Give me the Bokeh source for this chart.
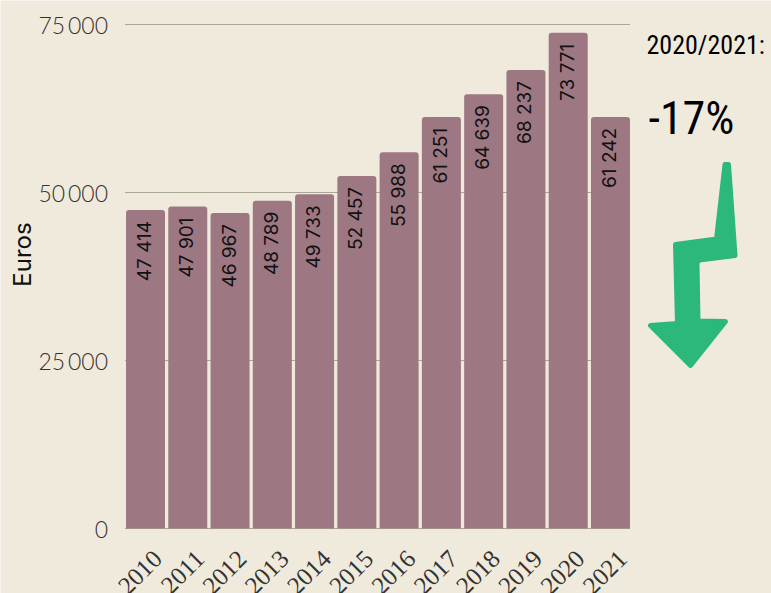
from bokeh.plotting import figure
from bokeh.embed import file_html
from bokeh.resources import INLINE
from bokeh.models import ColumnDataSource, FixedTicker, Range1d, Label, LabelSet, PolyAnnotation
from bokeh.core.properties import value

years = [2010, 2011, 2012, 2013, 2014, 2015, 2016, 2017, 2018, 2019, 2020, 2021]
euros = [47414, 47901, 46967, 48789, 49733, 52457, 55988, 61251, 64639, 68237, 73771, 61242]
labels = ["47 414", "47 901", "46 967", "48 789", "49 733", "52 457", "55 988", "61 251", "64 639", "68 237", "73 771", "61 242"]
y_ticks = [0, 25000, 50000, 75000]
y_tick_labels = {0: "0", 25000: "25\u2009000", 50000: "50\u2009000", 75000: "75\u2009000"}
y_title = "Euros"
note_period = "2020/2021:"
note_change = "-17%"

BG = "#f0eadc"
BAR = "#9d7882"
GREEN = "#2bb87a"

X_STEP = 42.27            # px per year
Y_UNIT = 75000 / 504      # euros per px
x_left = 2010 - 20.5 / X_STEP
x_end = 2021 + 19.5 / X_STEP

src = ColumnDataSource(dict(year=years, euro=euros, label=labels, zero=[0] * 12, name=[str(y) for y in years]))
grid = ColumnDataSource(dict(y=y_ticks, x0=[x_left] * 4, x1=[x_end] * 4))

p = figure(width=771, height=593, output_backend="svg", toolbar_location=None,
           x_range=Range1d(x_left - 124.5 / X_STEP, x_left + 646.5 / X_STEP),
           y_range=Range1d(-65 * Y_UNIT, 75000 + 24 * Y_UNIT),
           x_axis_location=None,
           background_fill_color=BG, border_fill_color=BG,
           min_border_left=0, min_border_right=0, min_border_top=0, min_border_bottom=0)
p.outline_line_color = None
p.grid.visible = False

p.segment(x0="x0", x1="x1", y0="y", y1="y", source=grid, line_color="#a8a894", line_width=1)
p.vbar(x="year", top="euro", width=0.923, bottom=0, source=src,
       fill_color=BAR, line_color=None, border_radius=dict(top_left=3, top_right=3, bottom_right=0, bottom_left=0))
p.text(x="year", y="euro", text="label", source=src, angle=1.5708, text_align="right",
       text_baseline="middle", y_offset=11, x_offset=-1, text_font=value("Inter"),
       text_font_size="19px", text_color="#111111")

p.yaxis.fixed_location = x_left
p.yaxis.ticker = FixedTicker(ticks=y_ticks)
p.yaxis.major_label_overrides = y_tick_labels
p.yaxis.major_label_text_font = "Lato Light"
p.yaxis.major_label_text_font_size = "23px"
p.yaxis.major_label_text_color = "#333333"
p.yaxis.major_label_standoff = 17
p.yaxis.major_tick_out = 0
p.yaxis.major_tick_in = 0
p.yaxis.axis_line_color = None
p.yaxis.major_tick_line_color = None
p.yaxis.minor_tick_line_color = None

p.add_layout(LabelSet(x="year", y="zero", text="name", source=src, angle=0.785, text_align="right",
                      text_baseline="middle", x_offset=12, y_offset=-26, text_font="Lato Light",
                      text_font_size="25px", text_color="#333333"))

p.add_layout(Label(x=22, y=254, x_units="canvas", y_units="canvas", angle=1.5708, text=y_title,
                   text_font="Inter", text_font_size="24px", text_color="#111111",
                   text_align="center", text_baseline="alphabetic"))

p.add_layout(Label(x=646, y=44, x_units="canvas", y_units="canvas",
                   text=note_period, text_font="Roboto Condensed",
                   text_font_size="26px", text_color="#000000", text_baseline="alphabetic"))
p.add_layout(Label(x=648, y=117, x_units="canvas", y_units="canvas",
                   text=note_change, text_font="Roboto Condensed",
                   text_font_size="46px", text_color="#000000", text_baseline="alphabetic"))

arrow_x = [724.5, 728, 734.5, 699, 696.5, 697.5, 725, 690, 650, 677, 675, 716]
arrow_y = [164, 164, 255, 259.5, 262, 320.5, 321, 365, 325, 323, 244, 238.5]
p.add_layout(PolyAnnotation(xs=arrow_x, ys=arrow_y, xs_units="canvas", ys_units="canvas",
                            fill_color=GREEN, fill_alpha=1, line_color=GREEN, line_alpha=1,
                            line_width=5, line_join="round", level="overlay"))

open("out.html", "w").write(file_html(p, INLINE))
